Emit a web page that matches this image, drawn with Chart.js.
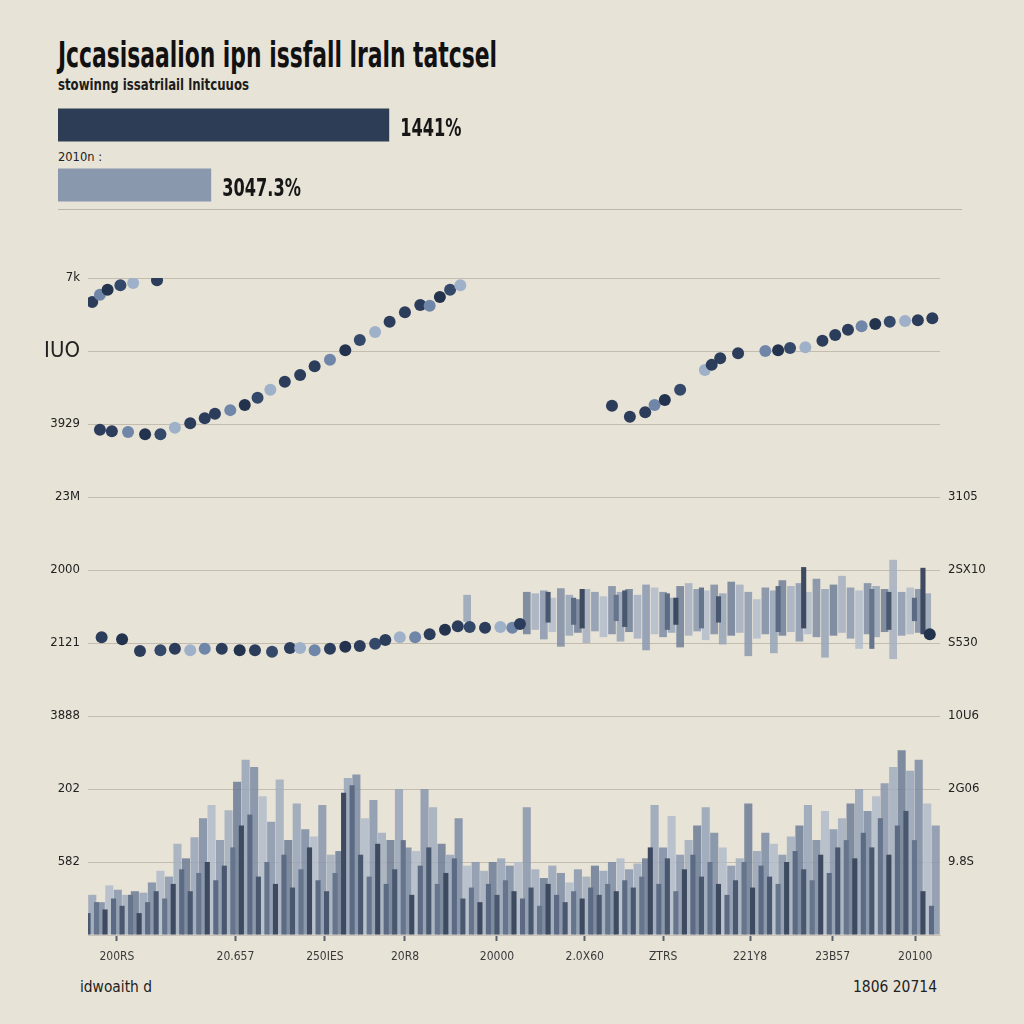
<!DOCTYPE html>
<html><head><meta charset="utf-8">
<script src="https://cdn.jsdelivr.net/npm/chart.js@4.4.1/dist/chart.umd.min.js"></script>
<style>
html,body{margin:0;padding:0;background:#e8e3d7;}
body{width:1024px;height:1024px;position:relative;overflow:hidden;font-family:"Liberation Sans Narrow","DejaVu Sans Condensed","Liberation Sans",sans-serif;color:#161616;}
.t{position:absolute;white-space:nowrap;transform-origin:0 0;line-height:1;}
#title{left:58px;top:37px;font-size:36px;font-weight:bold;color:#111;}
#sub{left:58px;top:78px;font-size:15px;color:#1c1c1c;font-weight:bold;}
#lab2{left:58px;top:150px;font-size:13px;color:#222;}
#foot1{left:80px;top:980px;font-size:15px;color:#222;}
#foot2{left:853px;top:980px;font-size:15px;color:#222;}
#sep{position:absolute;left:58px;top:209px;width:904px;height:1px;background:#bdb6a9;}
canvas{position:absolute;}
</style></head><body>
<div class="t" id="title" data-w="439">Jccasisaalion ipn issfall lraln tatcsel</div>
<div class="t" id="sub" data-w="191">stowinng issatrilail lnitcuuos</div>
<div class="t" id="lab2" data-w="44">2010n :</div>
<div id="sep"></div>
<canvas id="top" width="460" height="120" style="left:58px;top:95px;"></canvas>
<canvas id="main" width="1024" height="720" style="left:0px;top:250px;"></canvas>
<div class="t" id="foot1" data-w="72">idwoaith d</div>
<div class="t" id="foot2" data-w="84">1806 20714</div>
<script>
// ---------- data ----------
const topBarCategories = ['A', 'B'];
const topBarValues = [72.0, 33.3];
const topBarLabels = ['1441%', '3047.3%'];

const leftTickLabels = ['', '582', '202', '3888', '2121', '2000', '23M', '3929', 'IUO', '7k'];
const rightTickLabels = ['', '9.8S', '2G06', '10U6', 'S530', '2SX10', '3105', '', '', ''];
const xTickValues = [3.4, 17.3, 27.8, 37.2, 48.0, 58.3, 67.5, 77.7, 87.4, 97.1];
const xTickLabels = ['200RS', '20.657', '250IES', '20R8', '20000', '2.0X60', 'ZTRS', '221Y8', '23B57', '20100'];

// upper dotted curve (x in axis units, y in axis units)
const upperX = [0.5, 1.4, 2.3, 3.8, 5.3, 8.1,
  1.4, 2.8, 4.7, 6.7, 8.5, 10.2, 12.0, 13.7, 14.9, 16.7, 18.4, 19.9, 21.4, 23.1, 24.9, 26.6, 28.4, 30.2, 31.9, 33.7, 35.4, 37.2, 39.0, 40.1, 41.3, 42.5, 43.7,
  61.5, 63.6, 65.4, 66.5, 67.7, 69.5, 72.4, 73.2, 74.2, 76.3, 79.5, 81.0, 82.4, 84.2, 86.2, 87.7, 89.2, 90.8, 92.4, 94.1, 95.9, 97.4, 99.1];
const upperY = [8.67, 8.77, 8.84, 8.90, 8.93, 8.97,
  6.92, 6.90, 6.89, 6.86, 6.86, 6.95, 7.01, 7.08, 7.14, 7.19, 7.26, 7.36, 7.47, 7.58, 7.67, 7.79, 7.88, 8.01, 8.15, 8.26, 8.40, 8.53, 8.63, 8.62, 8.74, 8.84, 8.90,
  7.25, 7.10, 7.16, 7.26, 7.33, 7.47, 7.74, 7.81, 7.90, 7.97, 8.00, 8.01, 8.04, 8.05, 8.14, 8.22, 8.29, 8.34, 8.37, 8.40, 8.41, 8.42, 8.45];

// lower dotted line
const lowerX = [1.6, 4.0, 6.1, 8.5, 10.2, 12.0, 13.7, 15.7, 17.8, 19.6, 21.6, 23.7, 24.9, 26.6, 28.4, 30.2, 31.9, 33.7, 34.9, 36.6, 38.4, 40.1, 41.9, 43.4, 44.8, 46.6, 48.4, 49.8, 50.7, 98.8];
const lowerY = [4.08, 4.05, 3.89, 3.90, 3.92, 3.90, 3.92, 3.92, 3.90, 3.90, 3.88, 3.93, 3.93, 3.90, 3.92, 3.95, 3.96, 3.99, 4.04, 4.08, 4.08, 4.12, 4.18, 4.23, 4.22, 4.21, 4.22, 4.21, 4.26, 4.12];

// middle floating bars (light layer, slots from 44.5)
const midLightTop = [4.66, null, null, null, null, null, null,
  4.70, 4.68, 4.72, 4.62, 4.75, 4.66, 4.60, 4.74, 4.70, 4.64, 4.78, 4.70, 4.74, 4.66, 4.80, 4.76, 4.70, 4.62, 4.78, 4.82, 4.74, 4.72, 4.80, 4.68, 4.84, 4.80, 4.70, 4.60, 4.76, 4.72, 4.86, 4.78, 4.82, 4.70, 4.88, 4.74, 4.80, 4.92, 4.76, 4.72, 4.82, 4.78, 4.74, 5.14, 4.70, 4.76, 4.74, 4.68];
const midLightBottom = [4.29, null, null, null, null, null, null,
  4.12, 4.18, 4.05, 4.15, 3.95, 4.10, 4.14, 4.00, 4.16, 4.08, 4.12, 4.02, 4.15, 4.06, 3.90, 4.12, 4.08, 4.14, 3.94, 4.10, 4.16, 4.04, 4.12, 3.98, 4.10, 4.14, 3.82, 4.06, 4.12, 3.86, 4.10, 4.15, 4.02, 4.12, 4.08, 3.80, 4.10, 4.14, 4.06, 3.92, 4.12, 4.08, 4.15, 3.78, 4.10, 4.12, 4.14, 4.16];
// middle floating bars (dark layer, slots from 45)
const midDarkTop = [null, null, null, null, null, null, null, null, null, 4.70, null, null, 4.62, 4.74, null, null, null, 4.66, 4.72, null, null, null, null, 4.68, 4.62, null, null, 4.76, null, 4.64, null, null, null, null, null, null, 4.78, null, null, 5.04, null, null, null, null, null, null, null, 4.74, null, 4.70, null, null, 4.62, 5.03];
const midDarkBottom = [null, null, null, null, null, null, null, null, null, 4.28, null, null, 4.25, 4.20, null, null, null, 4.30, 4.22, null, null, null, null, 4.18, 4.25, null, null, 4.20, null, 4.28, null, null, null, null, null, null, 4.15, null, null, 4.20, null, null, null, null, null, null, null, 3.92, null, 4.18, null, null, 4.30, 4.12];

// bottom bars
const bottomLight = [0.55, 0.45, 0.68, 0.62, 0.55, 0.60, 0.58, 0.72, 0.88, 0.80,
  1.25, 1.05, 1.34, 1.60, 1.78, 1.30, 1.71, 2.10, 2.40, 2.30,
  1.90, 1.55, 2.13, 1.30, 1.80, 1.45, 1.35, 1.78, 1.10, 1.15,
  2.15, 2.20, 1.60, 1.85, 1.40, 1.30, 2.00, 1.20, 1.15, 2.00,
  1.75, 1.25, 1.10, 1.60, 0.95, 1.00, 0.88, 1.00, 1.05, 0.95,
  1.00, 1.75, 0.90, 0.78, 0.95, 0.85, 0.72, 0.90, 0.80, 0.95,
  0.88, 1.00, 1.05, 0.90, 0.98, 1.05, 1.78, 1.20, 1.63, 1.10,
  1.30, 1.50, 1.75, 1.40, 1.20, 0.95, 1.05, 1.80, 1.15, 1.40,
  1.25, 1.10, 1.35, 1.50, 1.78, 1.30, 1.70, 1.45, 1.60, 1.80,
  2.00, 1.70, 1.90, 2.08, 2.30, 2.53, 2.25, 2.40, 1.80, 1.50];
const bottomDark = [0.30, 0.45, 0.35, 0.50, 0.40, 0.55, 0.30, 0.45, 0.60, 0.50,
  0.70, 0.90, 0.60, 0.85, 1.00, 0.75, 0.95, 1.20, 1.50, 1.65,
  0.80, 1.00, 0.70, 1.10, 0.65, 0.90, 1.20, 0.75, 0.60, 0.85,
  1.95, 2.05, 1.10, 0.80, 1.25, 0.70, 0.90, 1.30, 0.55, 0.95,
  1.20, 0.70, 0.85, 1.05, 0.50, 0.65, 0.45, 0.70, 0.55, 0.75,
  0.60, 0.50, 0.65, 0.40, 0.70, 0.55, 0.45, 0.60, 0.50, 0.65,
  0.55, 0.70, 0.60, 0.75, 0.65, 0.80, 1.20, 0.70, 1.05, 0.60,
  0.90, 1.10, 0.80, 1.00, 0.70, 0.55, 0.75, 1.00, 0.65, 0.95,
  0.80, 0.70, 1.00, 1.15, 0.90, 0.75, 1.10, 0.85, 1.20, 1.30,
  1.05, 1.40, 1.20, 1.60, 1.10, 1.50, 1.70, 1.30, 0.60, 0.40];

// ---------- text fitting ----------
document.querySelectorAll('.t[data-w]').forEach(el => {
  const w = el.getBoundingClientRect().width;
  const target = parseFloat(el.dataset.w);
  el.style.transform = 'scaleX(' + (target / w) + ')';
});

const FONT = '"Liberation Sans Narrow","DejaVu Sans Condensed","Liberation Sans",sans-serif';

// ---------- top bars ----------
const topLabelPlugin = {
  id: 'topLabels',
  afterDatasetsDraw(chart) {
    const ctx = chart.ctx;
    const meta = chart.getDatasetMeta(0);
    meta.data.forEach((bar, i) => {
      ctx.save();
      ctx.fillStyle = '#161616';
      ctx.font = 'bold 25px ' + FONT;
      ctx.textBaseline = 'middle';
      ctx.translate(bar.x + 11, bar.y + 4);
      ctx.scale(0.72, 1);
      ctx.fillText(topBarLabels[i], 0, 0);
      ctx.restore();
    });
  }
};
new Chart(document.getElementById('top'), {
  type: 'bar',
  data: { labels: topBarCategories, datasets: [{ data: topBarValues, backgroundColor: ['#2e3d56', '#8a98ad'], barPercentage: 0.55, categoryPercentage: 1 }] },
  options: {
    indexAxis: 'y', responsive: false, animation: false, devicePixelRatio: 1,
    layout: { padding: 0 },
    plugins: { legend: { display: false }, tooltip: { enabled: false } },
    scales: { x: { min: 0, max: 100, display: false }, y: { display: false } }
  },
  plugins: [topLabelPlugin]
});

// ---------- main chart ----------
const lightPal = ['#97a5b9', '#7e8da5', '#b2bdcb', '#8a99af', '#a3afc0', '#6f7f98'];
const darkPal = ['#4a586f', '#5c6b83', '#3d4a60', '#66758c'];
const dotPal = ['#2c3d5b', '#2c3d5b', '#34486a', '#6f86a8', '#2c3d5b', '#9fb1c9', '#23324d'];

function pts(xs, ys) { return xs.map((x, i) => ({ x: x, y: ys[i] })); }
function floats(start, lows, highs) {
  const out = [];
  highs.forEach((h, i) => { if (h !== null) out.push({ x: start + i, y: [lows[i], h] }); });
  return out;
}

const hidden = { type: 'linear', min: 0, max: 100, display: false, offset: false };

new Chart(document.getElementById('main'), {
  data: {
    datasets: [
      { type: 'scatter', data: pts(upperX, upperY), xAxisID: 'x', yAxisID: 'y', order: 0,
        pointRadius: 6, pointBorderWidth: 0,
        pointBackgroundColor: c => dotPal[(c.dataIndex * 3) % dotPal.length] },
      { type: 'scatter', data: pts(lowerX, lowerY), xAxisID: 'x', yAxisID: 'y', order: 0,
        pointRadius: 6, pointBorderWidth: 0,
        pointBackgroundColor: c => dotPal[(c.dataIndex * 5 + 1) % dotPal.length] },
      { type: 'bar', data: floats(45, midDarkBottom, midDarkTop), xAxisID: 'xmd', yAxisID: 'y', order: 1,
        barPercentage: 0.6, categoryPercentage: 1, grouped: false,
        backgroundColor: c => darkPal[c.dataIndex % darkPal.length] },
      { type: 'bar', data: floats(44.5, midLightBottom, midLightTop), xAxisID: 'xm', yAxisID: 'y', order: 2,
        barPercentage: 0.9, categoryPercentage: 1, grouped: false,
        backgroundColor: c => lightPal[(c.dataIndex * 5) % lightPal.length] + 'd9' },
      { type: 'bar', data: bottomDark.map((v, i) => ({ x: i, y: v })), xAxisID: 'xd', yAxisID: 'y', order: 1,
        barPercentage: 0.6, categoryPercentage: 1, grouped: false,
        backgroundColor: c => darkPal[(c.dataIndex * 3) % darkPal.length] },
      { type: 'bar', data: bottomLight.map((v, i) => ({ x: i + 0.5, y: v })), xAxisID: 'xb', yAxisID: 'y', order: 2,
        barPercentage: 0.95, categoryPercentage: 1, grouped: false,
        backgroundColor: c => lightPal[(c.dataIndex * 7) % lightPal.length] + 'e0' }
    ]
  },
  options: {
    responsive: false, animation: false, devicePixelRatio: 1,
    layout: { padding: { top: 28, bottom: 5, left: 0, right: 0 } },
    plugins: { legend: { display: false }, tooltip: { enabled: false } },
    scales: {
      x: {
        type: 'linear', min: 0, max: 100, offset: false,
        afterBuildTicks: s => { s.ticks = xTickValues.map(v => ({ value: v })); },
        afterFit: s => { s.height = 30; },
        ticks: { autoSkip: false, maxRotation: 0, padding: 9, color: '#3a3a3a',
          font: { family: FONT, size: 12 }, callback: (v, i) => xTickLabels[i] },
        grid: { drawOnChartArea: false, drawTicks: true, tickLength: 6, tickColor: '#5a6070', tickWidth: 2 },
        border: { display: true, color: '#c9c2b5' }
      },
      xb: hidden, xd: hidden, xm: hidden, xmd: hidden,
      y: {
        position: 'left', min: 0, max: 9,
        afterFit: s => { s.width = 88; },
        ticks: { stepSize: 1, padding: 8, color: '#222',
          font: c => ({ family: FONT, size: c.index === 8 ? 22 : 13 }),
          callback: v => leftTickLabels[v] },
        grid: { color: '#c3bcaf', lineWidth: 1, drawTicks: false },
        border: { display: false }
      },
      yr: {
        position: 'right', min: 0, max: 9,
        afterFit: s => { s.width = 84; },
        ticks: { stepSize: 1, padding: 8, color: '#222', font: { family: FONT, size: 13 },
          callback: v => rightTickLabels[v] },
        grid: { drawOnChartArea: false, drawTicks: false },
        border: { display: false }
      }
    }
  }
});
</script>
</body></html>
